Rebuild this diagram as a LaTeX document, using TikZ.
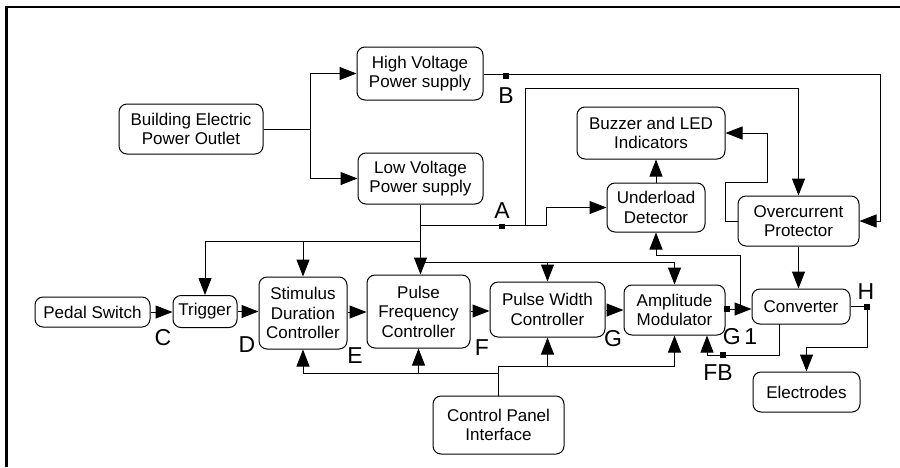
\documentclass[tikz,border=0pt]{standalone}
\usepackage{fontspec}
\setmainfont{Liberation Sans}
\usetikzlibrary{arrows.meta}
\begin{document}
\begin{tikzpicture}[x=1pt,y=-1pt,
  box/.style={draw, rounded corners=8pt, line width=1pt, align=center,
    font=\fontsize{17}{19.5}\selectfont, inner sep=0pt},
  conn/.style={line width=1pt},
  arr/.style={conn, -{Triangle[length=17pt,width=13pt]}},
  lbl/.style={font=\fontsize{23}{23}\selectfont, inner sep=0pt},
  mk/.style={fill, minimum size=5.5pt, inner sep=0pt}]
\useasboundingbox (0,0) rectangle (900,467);
\draw[line width=2.5pt] (6.5,467) -- (6.5,7) -- (900,7);

% nodes
\node[box, minimum width=144pt, minimum height=50pt] (bep) at (191,129) {Building Electric\\Power Outlet};
\node[box, minimum width=126pt, minimum height=53pt] (hv) at (420,73.5) {High Voltage\\Power supply};
\node[box, minimum width=125pt, minimum height=51pt] (lv) at (420.5,178.5) {Low Voltage\\Power supply};
\node[box, minimum width=148pt, minimum height=52pt] (bz) at (651,133) {Buzzer and LED\\Indicators};
\node[box, minimum width=98pt, minimum height=49pt] (ud) at (656,207.5) {Underload\\Detector};
\node[box, minimum width=121pt, minimum height=50pt] (oc) at (798.5,221) {Overcurrent\\Protector};
\node[box, minimum width=115pt, minimum height=30pt] (ps) at (92.5,312) {Pedal Switch};
\node[box, minimum width=64pt, minimum height=32pt] (tr) at (205,311.5) {Trigger};
\node[box, minimum width=88pt, minimum height=72pt] (sd) at (303,313) {Stimulus\\Duration\\Controller};
\node[box, minimum width=103pt, minimum height=73pt] (pf) at (418.5,311.5) {Pulse\\Frequency\\Controller};
\node[box, minimum width=115pt, minimum height=55pt] (pw) at (547.5,309.5) {Pulse Width\\Controller};
\node[box, minimum width=101pt, minimum height=50pt] (am) at (674.5,310) {Amplitude\\Modulator};
\node[box, minimum width=98pt, minimum height=35pt] (cv) at (801,306.5) {Converter};
\node[box, minimum width=107pt, minimum height=40pt] (el) at (806.5,392) {Electrodes};
\node[box, minimum width=131pt, minimum height=58pt] (cp) at (498.5,425) {Control Panel\\Interface};

% helper coordinates
\coordinate (bj) at (310,129);
\coordinate (hvR) at (880,74);
\coordinate (ja) at (420.5,225);
\coordinate (ab) at (525,225);
\coordinate (ud1) at (546,225);
\coordinate (topA) at (0,88);
\coordinate (j241) at (420.5,241);
\coordinate (j262) at (420.5,262);
\coordinate (g1) at (727,309);
\coordinate (uj) at (740,309);
\coordinate (ujt) at (740,255);
\coordinate (oc1) at (725,221);
\coordinate (oc2) at (767,182);
\coordinate (H) at (867,306.5);
\coordinate (eh) at (867,347);
\coordinate (fb0) at (779,324);
\coordinate (fb1) at (779,355);
\coordinate (fbL) at (707,355);
\coordinate (cpL) at (498.5,373);
\coordinate (cpR) at (498.5,366);

% power supply
\draw[conn] (bep.east) -- (bj);
\draw[arr] (bj) |- (hv.west);
\draw[arr] (bj) |- (lv.west);
\draw[arr] (hv.east |- hvR) -- (hvR) |- (oc.east);
\draw[conn] (lv.south) -- (ja);
\draw[arr] (ja) -- (ja |- pf.north);
\draw[arr] (ja) -- (ud1) |- (ud.west);
\draw[arr] (ab) |- (oc.north |- topA) -- (oc.north);
\draw[arr] (j241) -| (tr.north);
\draw[arr] (sd.north |- j241) -- (sd.north);
\draw[arr] (j262) -| (am.north);
\draw[arr] (pw.north |- j262) -- (pw.north);

% main chain
\draw[arr] (ps.east) -- (ps.east -| tr.west);
\draw[arr] (tr.east) -- (tr.east -| sd.west);
\draw[arr] (sd.east |- 0,312) -- (pf.west |- 0,312);
\draw[arr] (pf.east |- 0,311) -- (pw.west |- 0,311);
\draw[arr] (pw.east |- 0,310) -- (am.west |- 0,310);
\draw[arr] (am.east |- g1) -- (cv.west |- g1);
\draw[arr] (uj) -- (ujt) -| (ud.south);
\draw[arr] (ud.north) -- (ud.north |- bz.south);
\draw[arr] (oc.west) -- (oc1) |- (oc2) |- (bz.east);
\draw[arr] (oc.south) -- (oc.south |- cv.north);
\draw[arr] (cv.east) -- (H) -- (eh) -| (el.north);
\draw[arr] (fb0) -- (fb1) -- (fbL) -- (fbL |- am.south);

% control panel
\draw[conn] (cp.north) -- (cpR);
\draw[arr] (cpL) -| (sd.south);
\draw[arr] (pf.south |- cpL) -- (pf.south);
\draw[arr] (cpR) -| (am.south);
\draw[arr] (pw.south |- cpR) -- (pw.south);

% markers
\node[mk] (mA) at (502,226.5) {};
\node[mk] (mB) at (506,76) {};
\node[mk] (mG1) at (727,309) {};
\node[mk] (mH) at (867,307) {};
\node[mk] (mFB) at (723,355) {};

% labels
\node[lbl] (lA) at (502,211) {A};
\node[lbl] (lB) at (506,96) {B};
\node[lbl] (lC) at (163,338) {C};
\node[lbl] (lD) at (247,345) {D};
\node[lbl] (lE) at (355,356) {E};
\node[lbl] (lF) at (482,348) {F};
\node[lbl] (lG) at (613,339) {G};
\node[lbl] (lG1) at (740,337) {G\,1};
\node[lbl] (lFB) at (718,373) {FB};
\node[lbl] (lH) at (866,292) {H};
\end{tikzpicture}
\end{document}
